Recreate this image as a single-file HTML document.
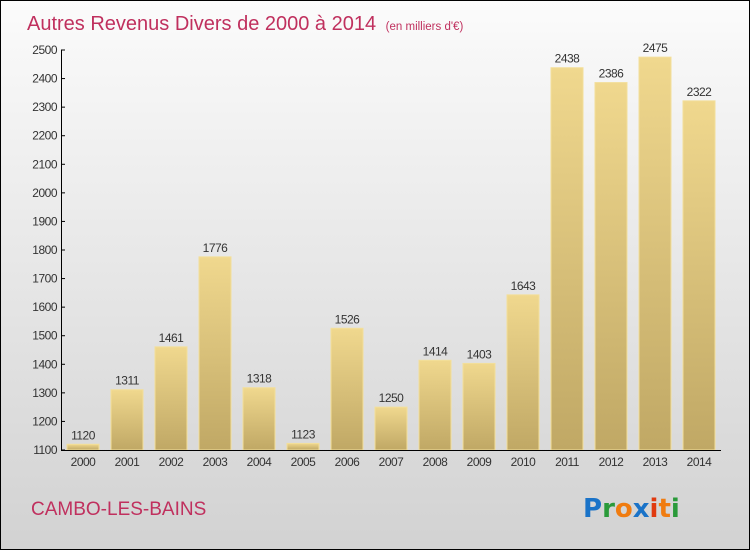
<!DOCTYPE html>
<html><head><meta charset="utf-8"><style>
body{margin:0}
#wrap{position:relative;width:748px;height:548px;border:1px solid #000;background:linear-gradient(#fbfbfb,#d2d2d2);font-family:"Liberation Sans",sans-serif;overflow:hidden}
</style></head><body>
<div id="wrap">
<svg id="c" width="748" height="548">
<defs><linearGradient id="bg" x1="0" y1="0" x2="0" y2="1"><stop offset="0" stop-color="#f0d88e"/><stop offset="1" stop-color="#c0a865"/></linearGradient></defs>
<text x="26" y="29" font-size="20" fill="#c0305e">Autres Revenus Divers de 2000 à 2014 <tspan font-size="11.5" dx="4">(en milliers d'€)</tspan></text>
<text x="30" y="514" font-size="19" fill="#c0305e">CAMBO-LES-BAINS</text>
<g font-size="26" font-weight="bold" font-family="'DejaVu Sans',sans-serif">
<text x="582" y="516"><tspan fill="#1a73c8">P</tspan><tspan fill="#2a9a3a">r</tspan><tspan fill="#f07c10">o</tspan><tspan fill="#1a73c8">x</tspan><tspan fill="#e03a10">i</tspan><tspan fill="#f07c10">t</tspan><tspan fill="#2a9a3a">i</tspan></text></g>
<g id="bars"></g><g id="axes"></g>
</svg></div>
<script>
const years=["2000","2001","2002","2003","2004","2005","2006","2007","2008","2009","2010","2011","2012","2013","2014"];
const values=[1120,1311,1461,1776,1318,1123,1526,1250,1414,1403,1643,2438,2386,2475,2322];
const ticks=[1100,1200,1300,1400,1500,1600,1700,1800,1900,2000,2100,2200,2300,2400,2500];
const NS="http://www.w3.org/2000/svg";
const y=v=>449-(v-1100)*400/1400;
const x=i=>82+i*44;
function mk(t,a,p){const e=document.createElementNS(NS,t);for(const k in a)e.setAttribute(k,a[k]);p.appendChild(e);return e;}
const bars=document.getElementById('bars'),axes=document.getElementById('axes');
values.forEach((v,i)=>{
 const r=mk('rect',{x:x(i)-16,y:y(v),width:32,height:y(1100)-y(v),fill:'url(#bg)',stroke:'#f3df9a','stroke-width':1},bars);
 
 
 const t=mk('text',{x:x(i),y:y(v)-5,'font-size':12,'text-anchor':'middle',fill:'#333','letter-spacing':'-0.5'},bars);
 t.textContent=v;
 
 
 const l=mk('text',{x:x(i),y:465,'font-size':12,'text-anchor':'middle',fill:'#333','letter-spacing':'-0.5'},axes);
 l.textContent=years[i];
 
 
});
ticks.forEach(v=>{
 const t=mk('text',{x:56,y:y(v)+4,'font-size':12,'text-anchor':'end',fill:'#333','letter-spacing':'-0.5'},axes);
 t.textContent=v;
 
 
 mk('line',{x1:60,x2:64,y1:y(v),y2:y(v),stroke:'#000'},axes);
});
const ya=mk('line',{x1:60.5,x2:60.5,y1:y(2500),y2:y(1100),stroke:'#000'},axes);


const xa=mk('line',{x1:60,x2:720,y1:y(1100)+0.5,y2:y(1100)+0.5,stroke:'#000'},axes);


</script>
</body></html>
